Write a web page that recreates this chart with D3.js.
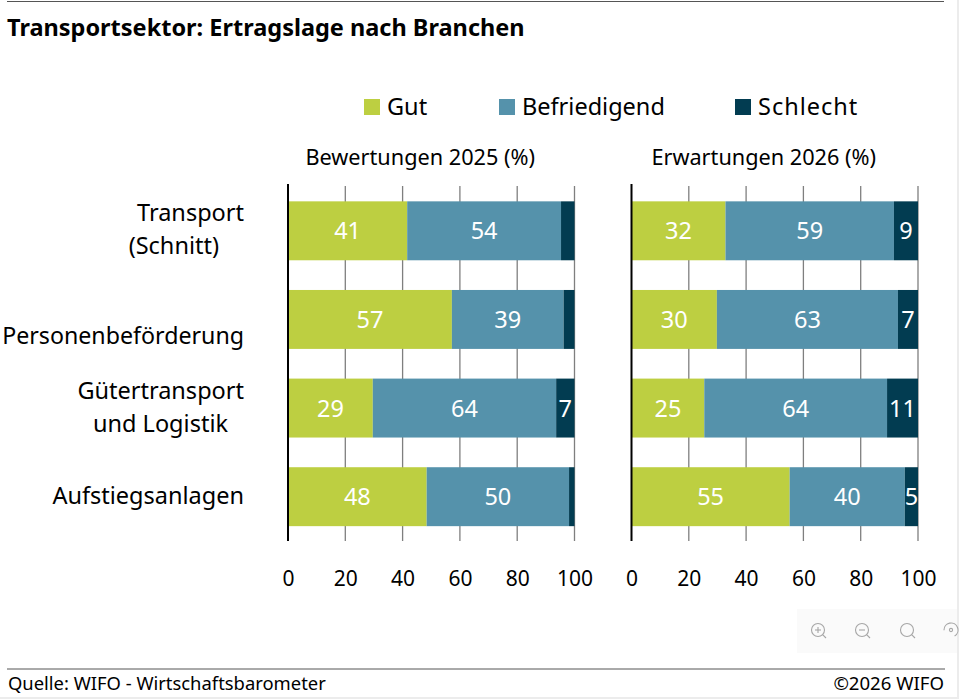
<!DOCTYPE html>
<html>
<head>
<meta charset="utf-8">
<script src="https://cdn.jsdelivr.net/npm/d3@7"></script>
<style>
  html, body { margin: 0; padding: 0; background: #fff; overflow: hidden; }
  svg { display: block; font-family: "Noto Sans", sans-serif; }
</style>
</head>
<body>
<div id="chart"></div>
<script>
const title = "Transportsektor: Ertragslage nach Branchen";
const source = "Quelle: WIFO - Wirtschaftsbarometer";
const copyright = "©2026 WIFO";

const categories = ["Transport", "Personenbeförderung", "Gütertransport", "Aufstiegsanlagen"];
const categoryLines = [["Transport", "(Schnitt)"], ["Personenbeförderung"], ["Gütertransport", "und Logistik"], ["Aufstiegsanlagen"]];
const seriesNames = ["Gut", "Befriedigend", "Schlecht"];
const seriesColors = ["#bdcf41", "#5592ab", "#023c51"];
const ticks = [0, 20, 40, 60, 80, 100];

const panelTitles = ["Bewertungen 2025 (%)", "Erwartungen 2026 (%)"];

/* bar lengths, labels as printed on it */
const gut2025 = [41.6, 57.2, 29.6, 48.4];
const befriedigend2025 = [53.7, 39.0, 64.0, 49.7];
const schlecht2025 = [4.7, 3.8, 6.4, 1.9];
const gut2026 = [32.8, 29.8, 25.4, 55.2];
const befriedigend2026 = [58.8, 63.2, 63.8, 40.2];
const schlecht2026 = [8.4, 7.0, 10.8, 4.6];

const labels2025 = [[41, 54, null], [57, 39, null], [29, 64, 7], [48, 50, null]];
const labels2026 = [[32, 59, 9], [30, 63, 7], [25, 64, 11], [55, 40, 5]];

const width = 959, height = 699;

const svg = d3.select("#chart").append("svg")
  .attr("width", width)
  .attr("height", height);

/* page frame */
svg.append("rect").attr("x", 957).attr("y", 0).attr("width", 2).attr("height", height).attr("fill", "#ececec");
svg.append("rect").attr("x", 0).attr("y", 697).attr("width", width).attr("height", 2).attr("fill", "#ececec");

/* header and footer */
svg.append("line").attr("x1", 7).attr("x2", 944).attr("y1", 1.5).attr("y2", 1.5).attr("stroke", "#555").attr("stroke-width", 1);
svg.append("text").attr("x", 7).attr("y", 36)
  .attr("font-size", 23.5).attr("font-weight", 700).attr("fill", "#000")
  .text(title);

svg.append("line").attr("x1", 7).attr("x2", 945).attr("y1", 669).attr("y2", 669).attr("stroke", "#555").attr("stroke-width", 1);
svg.append("text").attr("x", 8).attr("y", 690).attr("font-size", 18.4).attr("fill", "#000").text(source);
svg.append("text").attr("x", 944).attr("y", 690).attr("text-anchor", "end").attr("font-size", 18.6).attr("fill", "#000").text(copyright);

/* legend */
const legendX = [364, 499, 735];
const legendSpacing = [0, 0, 1];
const legend = svg.append("g").selectAll("g").data(seriesNames).join("g")
  .attr("transform", (d, i) => "translate(" + legendX[i] + " 99)");
legend.append("rect").attr("width", 16).attr("height", 16).attr("fill", (d, i) => seriesColors[i]);
legend.append("text").attr("x", 23).attr("y", 16).attr("font-size", 23.5).attr("fill", "#000")
  .attr("letter-spacing", (d, i) => legendSpacing[i])
  .text(d => d);

/* shared row scale */
const y = d3.scaleBand()
  .domain(categories)
  .range([186.5, 541])
  .paddingInner(0.335)
  .paddingOuter(0.1675);

/* category labels */
const labelOffset = [-10, 25, -9, 7.5];
const labelRight = [[244, 219], [244], [244, 228], [244]];
svg.append("g").selectAll("text").data(categories).join("text")
  .attr("text-anchor", "end")
  .attr("font-size", (d, i) => i == 1 ? 23.2 : 23.5)
  .attr("fill", "#000")
  .each(function (d, i) {
    const cy = y(d) + y.bandwidth() / 2;
    categoryLines[i].forEach((l, j) => {
      d3.select(this).append("tspan")
        .attr("x", labelRight[i][j])
        .attr("y", cy + labelOffset[i] + j * 33)
        .text(l);
    });
  });

function drawPanel(x0, x1, panelTitle, a, b, c, labels) {
  const x = d3.scaleLinear().domain([0, 100]).range([x0, x1]);
  const g = svg.append("g");

  g.append("text")
    .attr("x", x(50) - 11)
    .attr("y", 165)
    .attr("text-anchor", "middle")
    .attr("font-size", 21.7)
    .attr("fill", "#000")
    .text(panelTitle);

  /* gridlines run behind the bars */
  g.append("g").selectAll("line").data(ticks.slice(1)).join("line")
    .attr("x1", d => x(d)).attr("x2", d => x(d))
    .attr("y1", 186).attr("y2", 541)
    .attr("stroke", "#7f7f7f").attr("stroke-width", 1.3);

  const rows = categories.map((cat, i) => {
    const vals = [a[i], b[i], c[i]];
    return vals.map((v, k) => ({
      cat, k, v,
      start: d3.sum(vals.slice(0, k)),
      label: labels[i][k]
    }));
  }).flat();

  g.append("g").selectAll("rect").data(rows).join("rect")
    .attr("x", d => x(d.start))
    .attr("y", d => y(d.cat))
    .attr("width", d => x(d.start + d.v) - x(d.start))
    .attr("height", y.bandwidth())
    .attr("fill", d => seriesColors[d.k]);

  g.append("g").selectAll("text").data(rows.filter(d => d.label !== null)).join("text")
    .attr("x", d => x(d.start + d.v / 2))
    .attr("y", d => y(d.cat) + y.bandwidth() / 2 + 8.5)
    .attr("text-anchor", "middle")
    .attr("font-size", 23.5)
    .attr("fill", "#fff")
    .text(d => d.label);

  /* zero line */
  g.append("line")
    .attr("x1", x(0)).attr("x2", x(0))
    .attr("y1", 184).attr("y2", 541)
    .attr("stroke", "#000").attr("stroke-width", 2);

  const axis = d3.axisBottom(x).tickValues(ticks).tickSize(0).tickPadding(0);
  const ax = g.append("g").attr("transform", "translate(0 586)").call(axis);
  ax.select(".domain").remove();
  ax.selectAll("text")
    .attr("y", 0)
    .attr("dy", 0)
    .attr("font-size", 21)
    .attr("font-family", '"Noto Sans", sans-serif')
    .attr("fill", "#000");
}

drawPanel(288, 574.5, panelTitles[0], gut2025, befriedigend2025, schlecht2025, labels2025);
drawPanel(631.5, 918, panelTitles[1], gut2026, befriedigend2026, schlecht2026, labels2026);

/* zoom toolbar */
const toolbar = svg.append("g");
toolbar.append("rect").attr("x", 797).attr("y", 609).attr("width", 160).attr("height", 44).attr("fill", "#fafafa");
const iconX = [818, 862, 907];
const iconSign = [true, false, null];
iconX.forEach((cx, i) => {
  const ic = toolbar.append("g").attr("fill", "none").attr("stroke", "#a6a6a6").attr("stroke-width", 1.1);
  ic.append("circle").attr("cx", cx).attr("cy", 630).attr("r", 6.5);
  ic.append("line").attr("x1", cx + 4.6).attr("y1", 634.6).attr("x2", cx + 8).attr("y2", 638);
  if (iconSign[i] !== null) {
    ic.append("line").attr("x1", cx - 3).attr("x2", cx + 3).attr("y1", 630).attr("y2", 630);
  }
  if (iconSign[i] === true) {
    ic.append("line").attr("x1", cx).attr("x2", cx).attr("y1", 627).attr("y2", 633);
  }
});
const reset = toolbar.append("g").attr("fill", "none").attr("stroke", "#a6a6a6").attr("stroke-width", 1.1);
reset.append("path").attr("d", d3.arc()({ innerRadius: 7, outerRadius: 7, startAngle: -1.6, endAngle: 2.6 })).attr("transform", "translate(951 630)");
reset.append("circle").attr("cx", 951).attr("cy", 630).attr("r", 1.6);
</script>
</body>
</html>
